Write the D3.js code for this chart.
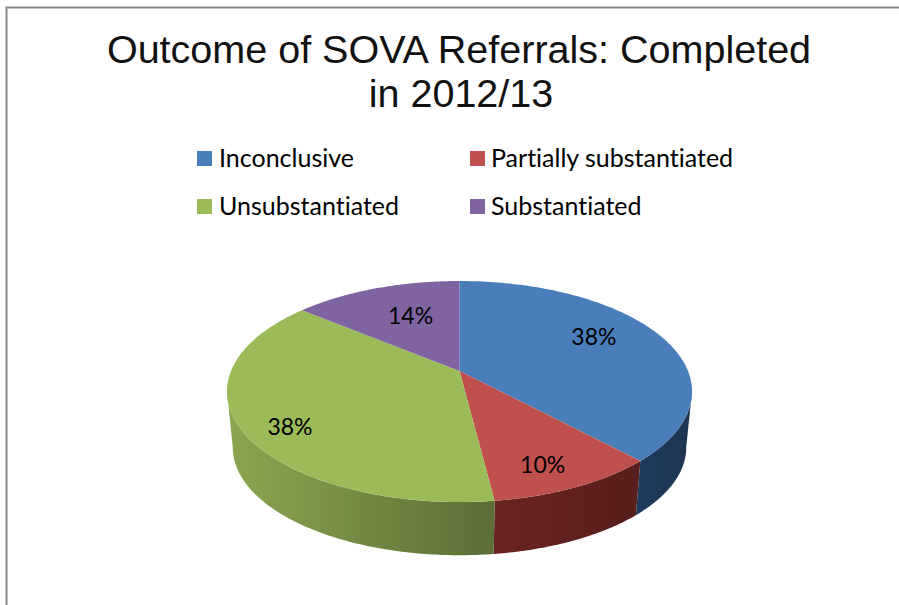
<!DOCTYPE html>
<html>
<head>
<meta charset="utf-8">
<script src="https://cdn.jsdelivr.net/npm/d3@7/dist/d3.min.js"></script>
<style>
html,body{margin:0;padding:0;background:#fff;}
svg{display:block;}
text{font-variant-ligatures:none;}
</style>
</head>
<body>
<svg id="chart" width="899" height="605"></svg>
<script>
// Outcome shares, in drawing order, clockwise from twelve o'clock
const categories = ["Inconclusive", "Partially substantiated", "Unsubstantiated", "Substantiated"];
const shares = [38, 10, 38, 14];
const topColors = ["#4a7ebb", "#c0504d", "#9bbb59", "#8064a2"];
const wallLight = ["#1f3a5c", "#6b2422", "#8ba650", "#5c4676"];
const wallDark = ["#1e3551", "#561e1c", "#5c6e36", "#3f2f52"];
const titleLines = ["Outcome of SOVA Referrals: Completed", "in 2012/13"];

const svg = d3.select("#chart");
const defs = svg.append("defs");

// Frame: only the top and left edges of the chart area are in view
svg.append("path")
  .attr("d", "M6.5,605V7.5H899")
  .attr("fill", "none").attr("stroke", "#8a8a8a").attr("stroke-width", 2);

// Title, slightly widened
svg.append("g").selectAll("text").data(titleLines).join("text")
  .attr("transform", (d, i) => `translate(${459 + i * 2},${63 + i * 44}) scale(1.0135,1)`)
  .attr("text-anchor", "middle")
  .attr("font-family", "'Liberation Sans', Arial, sans-serif")
  .attr("font-size", 39).attr("fill", "#111")
  .text(d => d);

// Legend: two columns, two rows
const legendX = d3.scalePoint().domain([0, 1]).range([197, 470]);
const legendY = d3.scalePoint().domain([0, 1]).range([151, 199]);
const legend = svg.append("g").selectAll("g").data(categories).join("g")
  .attr("transform", (d, i) => `translate(${legendX(i % 2)},${legendY(Math.floor(i / 2))})`);
legend.append("rect").attr("width", 15).attr("height", 15)
  .attr("fill", (d, i) => topColors[i]);
legend.append("text").attr("x", (d, i) => i % 2 ? 21 : 22).attr("y", 16)
  .attr("font-family", "Lato, sans-serif").attr("font-size", 25)
  .attr("fill", "#000").text(d => d);

// Perspective view of the disc: unit-circle point -> screen position
const cx = 459.5, cy = 371, rx = 228.5, ry = 106.7, persp = 0.1855;
const wallDrop = 56.5, wallScale = 0.975;
function project(t, angle, scale = 1, drop = 0) {
  const X = t * Math.sin(angle), U = -t * Math.cos(angle);
  const w = 1 - persp * U;
  return [cx + scale * rx * X / w, cy + drop + scale * ry * U / w];
}
const line = d3.line();
const arcSteps = (a0, a1) => d3.range(0, 121).map(i => a0 + (a1 - a0) * i / 120);

const slices = d3.pie().sort(null).value(d => d)(shares);

// Side wall: runs between the two widest points of the disc, on the viewer's side
const visibleFrom = Math.PI / 2 + 0.187, visibleTo = Math.PI * 1.5 - 0.187;
const wall = svg.append("g");
slices.forEach((s, i) => {
  const a0 = Math.max(s.startAngle, visibleFrom), a1 = Math.min(s.endAngle, visibleTo);
  if (a1 <= a0) return;
  const upper = arcSteps(a0, a1).map(a => project(1, a));
  const lower = arcSteps(a1, a0).map(a => project(1, a, wallScale, wallDrop));
  const gx = d3.extent(upper, p => p[0]);
  const gradient = defs.append("linearGradient").attr("id", `wall${i}`)
    .attr("gradientUnits", "userSpaceOnUse")
    .attr("x1", gx[0]).attr("x2", gx[1]).attr("y1", 0).attr("y2", 0);
  gradient.append("stop").attr("offset", 0).attr("stop-color", wallLight[i]);
  gradient.append("stop").attr("offset", 1).attr("stop-color", wallDark[i]);
  wall.append("path")
    .attr("d", line(upper.concat(lower)) + "Z")
    .attr("fill", `url(#wall${i})`);
});

// Top face of the disc
svg.append("g").selectAll("path").data(slices).join("path")
  .attr("d", s => line([[cx, cy]].concat(arcSteps(s.startAngle, s.endAngle).map(a => project(1, a)))) + "Z")
  .attr("fill", (s, i) => topColors[i]);

// Percentage labels, set on each slice's mid-angle and nudged clear of the edges
const labelNudge = [[-7.5, -8], [6, 17], [-20, 18], [12, 5]];
svg.append("g").selectAll("text").data(slices).join("text")
  .attr("transform", (s, i) => {
    const p = project(0.7, (s.startAngle + s.endAngle) / 2);
    return `translate(${p[0] + labelNudge[i][0]},${p[1] + labelNudge[i][1]})`;
  })
  .attr("text-anchor", "middle").attr("dy", "0.35em")
  .attr("font-family", "Lato, sans-serif").attr("font-size", 23)
  .attr("fill", "#000")
  .text(s => s.data + "%");
</script>
</body>
</html>
